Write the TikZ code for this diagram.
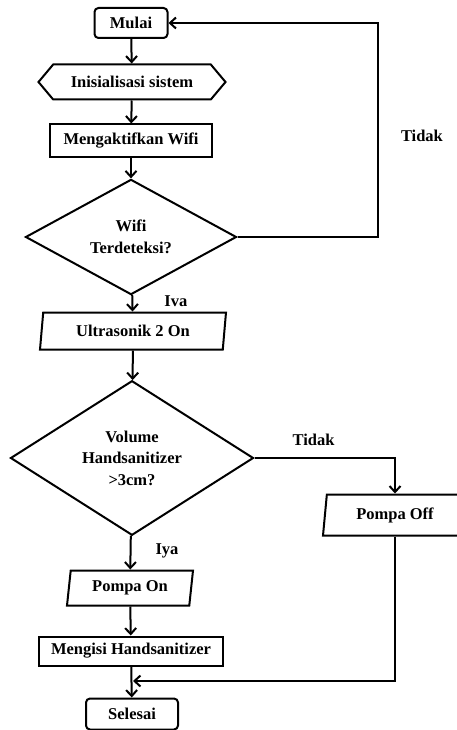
\documentclass[tikz,border=0pt]{standalone}
\usepackage{fontspec}
\setmainfont{Liberation Serif}
\usetikzlibrary{arrows.meta, shapes.geometric, shapes.symbols}

\begin{document}
\begin{tikzpicture}[->,>={Straight Barb[length=6pt,width=11pt]},x=1pt,y=-1pt,line width=2pt,
  every node/.style={font=\fontsize{16.5}{21.5}\selectfont\bfseries},
  term/.style={rectangle,rounded corners=4pt,draw},
  proc/.style={rectangle,draw},
  hexa/.style={signal,signal to=east and west,signal pointer angle=100,draw},
  io/.style={trapezium,trapezium left angle=80,trapezium right angle=100,
    trapezium stretches body,draw},
  cond/.style={diamond,draw,align=center,inner sep=0pt},
  lbl/.style={inner sep=0pt}]
  \useasboundingbox (0,0) rectangle (456,730);
  \node[term, minimum width=73pt, minimum height=30pt] (mulai) at (131,23) {Mulai};
  \node[hexa, minimum width=187pt, minimum height=35pt] (init) at (132,82) {Inisialisasi sistem};
  \node[proc, minimum width=162pt, minimum height=33pt] (wifion) at (131,141) {Mengaktifkan Wifi};
  \node[cond, minimum width=211pt, minimum height=97pt] (wifi) at (131,237) {Wifi\\Terdeteksi?};
  \node[io, minimum width=186pt, minimum height=37pt] (ultra) at (133,331) {Ultrasonik 2 On};
  \node[cond, minimum width=243pt, minimum height=151pt] (vol) at (132,458) {Volume\\Handsanitizer\\>3cm?};
  \node[io, minimum width=144pt, minimum height=41pt] (pompaoff) at (395,515) {Pompa Off};
  \node[io, minimum width=126pt, minimum height=35pt] (pompaon) at (130,588) {Pompa On};
  \node[proc, minimum width=184pt, minimum height=29pt] (isi) at (131,651) {Mengisi Handsanitizer};
  \node[term, minimum width=92pt, minimum height=31pt] (selesai) at (132,714) {Selesai};
  \coordinate (loop) at (378,136);
  \coordinate (join) at (133,681);
  \path
    (mulai) edge (init)
    (init) edge (wifion)
    (wifion) edge (wifi)
    (wifi) edge node[lbl, pos=0.35, right=31pt] {Iva} (ultra)
    (ultra) edge (vol)
    (vol) edge node[lbl, pos=0.46, right=24pt] {Iya} (pompaon)
    (pompaon) edge (isi)
    (isi) edge (selesai);
  \draw (wifi.east) -| (loop) node[lbl, right=22pt] {Tidak} |- (mulai.east);
  \draw (vol.east) -| node[lbl, pos=0.21, above=11pt] {Tidak} (pompaoff.north);
  \draw (pompaoff.south) |- (join);
\end{tikzpicture}
\end{document}
